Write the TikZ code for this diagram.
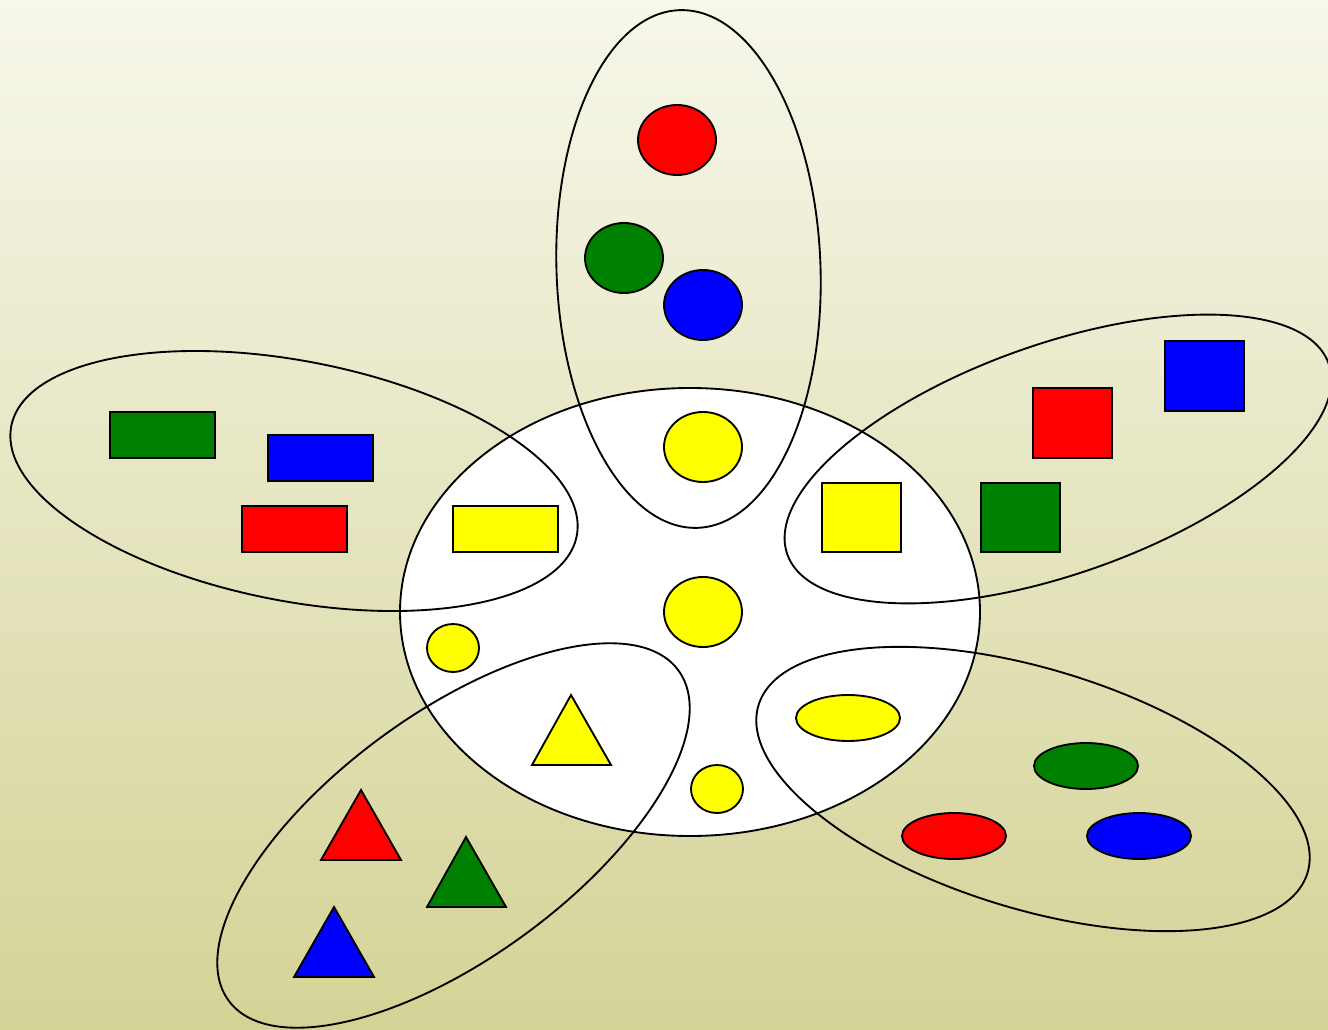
\documentclass[tikz,border=0pt]{standalone}
\definecolor{bgtop}{HTML}{F7F7EB}
\definecolor{bgbot}{HTML}{D4D396}
\definecolor{cred}{HTML}{FF0000}
\definecolor{cgreen}{HTML}{008000}
\definecolor{cblue}{HTML}{0000FF}
\definecolor{cyellow}{HTML}{FFFF00}
\begin{document}
\begin{tikzpicture}[x=0.75pt,y=-0.75pt,
  petal/.style={draw=black,line width=1.4pt},
  shp/.style={draw=black,line width=1.4pt}]
\useasboundingbox (0,0) rectangle (1328,1030);
\clip (0,0) rectangle (1328,1030);
\shade[top color=bgtop,bottom color=bgbot] (0pt,0pt) rectangle (996pt,-772.5pt);
% center
\draw[petal,fill=white] (690,612) ellipse [x radius=290,y radius=224];
% petals
\draw[petal,rotate around={2:(688.5,269)}] (688.5,269) ellipse [x radius=132,y radius=259];
\draw[petal,rotate around={-11:(294,481)}] (294,481) ellipse [x radius=288,y radius=120];
\draw[petal,rotate around={19.4:(1058,459)}] (1058,459) ellipse [x radius=287,y radius=115];
\draw[petal,rotate around={-17:(1033,789)}] (1033,789) ellipse [x radius=287,y radius=120];
\draw[petal,rotate around={36.3:(453.5,835.5)}] (453.5,835.5) ellipse [x radius=279,y radius=122];
% top petal circles
\draw[shp,fill=cred] (677,140) ellipse [x radius=39,y radius=35];
\draw[shp,fill=cgreen] (624,258) ellipse [x radius=39,y radius=35];
\draw[shp,fill=cblue] (703,305) ellipse [x radius=39,y radius=35];
% center yellow
\draw[shp,fill=cyellow] (703,447) ellipse [x radius=39,y radius=35];
\draw[shp,fill=cyellow] (703,612) ellipse [x radius=39,y radius=35];
\draw[shp,fill=cyellow] (453,648) ellipse [x radius=26,y radius=24];
\draw[shp,fill=cyellow] (717,789) ellipse [x radius=26,y radius=24];
\draw[shp,fill=cyellow] (848,718) ellipse [x radius=52,y radius=23];
\draw[shp,fill=cyellow] (453,506) rectangle (558,552);
\draw[shp,fill=cyellow] (822,483) rectangle (901,552);
\draw[shp,fill=cyellow] (571,695) -- (611,765) -- (532,765) -- cycle;
% left petal rects
\draw[shp,fill=cgreen] (110,412) rectangle (215,458);
\draw[shp,fill=cblue] (268,435) rectangle (373,481);
\draw[shp,fill=cred] (242,506) rectangle (347,552);
% right petal squares
\draw[shp,fill=cblue] (1165,341) rectangle (1244,411);
\draw[shp,fill=cred] (1033,388) rectangle (1112,458);
\draw[shp,fill=cgreen] (981,483) rectangle (1060,552);
% bottom right ellipses
\draw[shp,fill=cgreen] (1086,766) ellipse [x radius=52,y radius=23];
\draw[shp,fill=cred] (954,836) ellipse [x radius=52,y radius=23];
\draw[shp,fill=cblue] (1139,836) ellipse [x radius=52,y radius=23];
% bottom left triangles
\draw[shp,fill=cred] (361,790) -- (401,860) -- (321,860) -- cycle;
\draw[shp,fill=cgreen] (466,837) -- (506,907) -- (427,907) -- cycle;
\draw[shp,fill=cblue] (334,907) -- (374,977) -- (294,977) -- cycle;
\end{tikzpicture}
\end{document}
